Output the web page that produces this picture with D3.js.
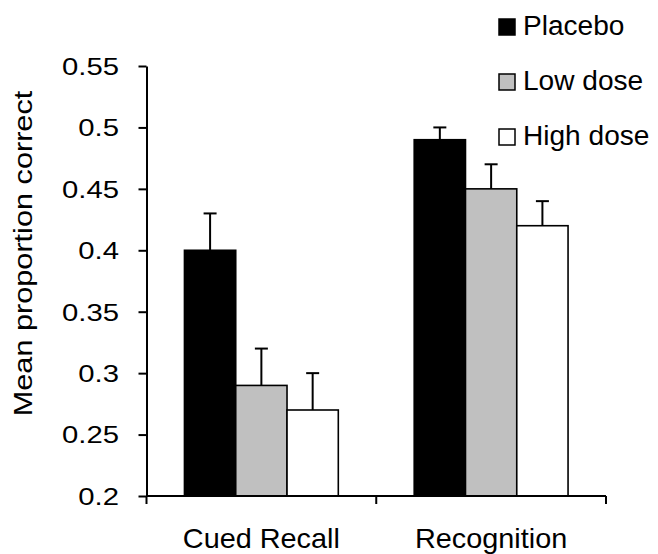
<!DOCTYPE html>
<html>
<head>
<meta charset="utf-8">
<script src="https://cdn.jsdelivr.net/npm/d3@7"></script>
<style>
  body { margin: 0; background: #fff; }
  text { font-family: "Liberation Sans", Arial, sans-serif; fill: #000; }
</style>
</head>
<body>
<div id="chart"></div>
<script>
// data
const categories = ["Cued Recall", "Recognition"]
const series = ["Placebo", "Low dose", "High dose"]
const placebo = [0.40, 0.49]
const lowDose = [0.29, 0.45]
const highDose = [0.27, 0.42]
const placeboErr = [0.03, 0.01]
const lowDoseErr = [0.03, 0.02]
const highDoseErr = [0.03, 0.02]
const yTicks = [0.2, 0.25, 0.3, 0.35, 0.4, 0.45, 0.5, 0.55]
const yTickLabels = ["0.2", "0.25", "0.3", "0.35", "0.4", "0.45", "0.5", "0.55"]

const values = [placebo, lowDose, highDose]
const errors = [placeboErr, lowDoseErr, highDoseErr]
const colors = ["#000000", "#c0c0c0", "#ffffff"]

const rows = []
series.forEach((s, i) => {
  categories.forEach((c, j) => {
    rows.push({ series: s, cat: c, value: values[i][j], err: errors[i][j], color: colors[i] })
  })
})

const width = 658
const height = 554

const svg = d3.select("#chart")
  .append("svg")
  .attr("width", width)
  .attr("height", height)

// scales
const x0 = d3.scaleBand()
  .domain(categories)
  .range([146.5, 606])

const x1 = d3.scaleBand()
  .domain(series)
  .range([0, x0.bandwidth()])
  .paddingInner(0)
  .paddingOuter(0.74)

const y = d3.scaleLinear()
  .domain([0.2, 0.55])
  .range([496, 66])

// bars
svg.append("g")
  .selectAll("rect")
  .data(rows)
  .join("rect")
  .attr("x", d => x0(d.cat) + x1(d.series))
  .attr("y", d => y(d.value))
  .attr("width", x1.bandwidth())
  .attr("height", d => y(0.2) - y(d.value))
  .attr("fill", d => d.color)
  .attr("stroke", "#000")
  .attr("stroke-width", 1.6)

// error bars (upper only)
const eb = svg.append("g")
  .attr("stroke", "#000")
  .attr("stroke-width", 2)
eb.selectAll("line.v")
  .data(rows)
  .join("line")
  .attr("class", "v")
  .attr("x1", d => x0(d.cat) + x1(d.series) + x1.bandwidth() / 2)
  .attr("x2", d => x0(d.cat) + x1(d.series) + x1.bandwidth() / 2)
  .attr("y1", d => y(d.value))
  .attr("y2", d => y(d.value + d.err))
eb.selectAll("line.cap")
  .data(rows)
  .join("line")
  .attr("class", "cap")
  .attr("x1", d => x0(d.cat) + x1(d.series) + x1.bandwidth() / 2 - 6.5)
  .attr("x2", d => x0(d.cat) + x1(d.series) + x1.bandwidth() / 2 + 6.5)
  .attr("y1", d => y(d.value + d.err))
  .attr("y2", d => y(d.value + d.err))

// Y axis
const yAxis = svg.append("g")
  .attr("transform", `translate(146.5,0)`)
  .call(d3.axisLeft(y)
    .tickValues(yTicks)
    .tickFormat((d, i) => yTickLabels[i])
    .tickSize(8)
    .tickSizeOuter(0))
yAxis.select(".domain").attr("stroke", "#000").attr("stroke-width", 2)
yAxis.selectAll(".tick line").attr("stroke", "#000").attr("stroke-width", 2)
yAxis.selectAll(".tick text")
  .attr("x", 0)
  .attr("dy", "0.35em")
  .attr("transform", "translate(-27.5,0) scale(1.22,1)")
  .style("font-size", "24px")

// X axis with ticks at category boundaries
const xAxis = svg.append("g")
xAxis.append("line")
  .attr("x1", x0.range()[0])
  .attr("x2", x0.range()[1])
  .attr("y1", y(0.2))
  .attr("y2", y(0.2))
  .attr("stroke", "#000")
  .attr("stroke-width", 2)
const bounds = categories.map(c => x0(c)).concat([x0.range()[1]])
xAxis.selectAll("line.tick")
  .data(bounds)
  .join("line")
  .attr("class", "tick")
  .attr("x1", d => d)
  .attr("x2", d => d)
  .attr("y1", y(0.2))
  .attr("y2", y(0.2) + 8)
  .attr("stroke", "#000")
  .attr("stroke-width", 2)
xAxis.selectAll("text")
  .data(categories)
  .join("text")
  .attr("transform", d => `translate(${x0(d) + x0.bandwidth() / 2},548) scale(1.03,1)`)
  .attr("text-anchor", "middle")
  .style("font-size", "28px")
  .text(d => d)

// Y axis label
svg.append("text")
  .attr("transform", "translate(32,253.5) rotate(-90) scale(1.18,1)")
  .attr("text-anchor", "middle")
  .style("font-size", "26px")
  .text("Mean proportion correct")

// legend
const legend = svg.append("g")
  .selectAll("g")
  .data(series)
  .join("g")
  .attr("transform", (d, i) => `translate(499,${35 + i * 55})`)
legend.append("rect")
  .attr("x", 0)
  .attr("y", -16)
  .attr("width", 16)
  .attr("height", 16)
  .attr("fill", (d, i) => colors[i])
  .attr("stroke", "#000")
  .attr("stroke-width", 1.5)
legend.append("text")
  .attr("transform", "translate(24,0) scale(1.04,1)")
  .style("font-size", "27px")
  .text(d => d)
</script>
</body>
</html>
